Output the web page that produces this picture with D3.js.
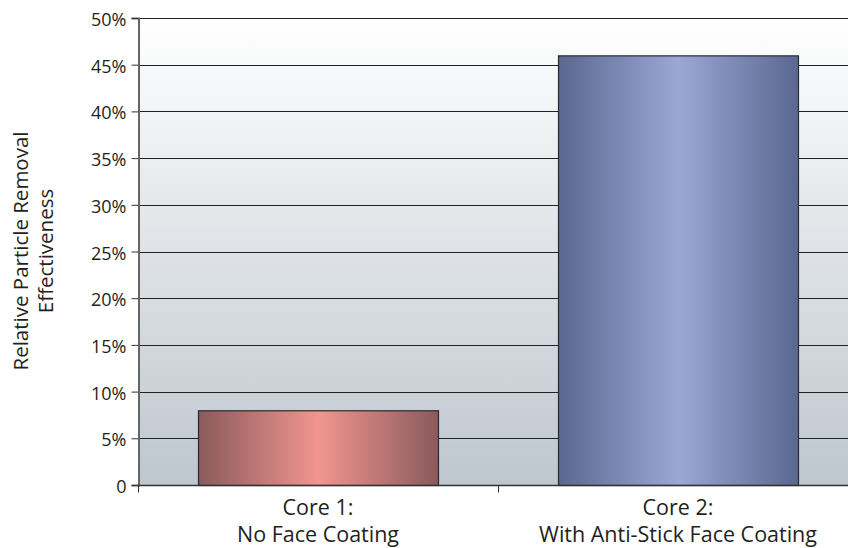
<!DOCTYPE html>
<html>
<head>
<meta charset="utf-8">
<script src="https://cdn.jsdelivr.net/npm/d3@7"></script>
<style>
  html, body { margin: 0; padding: 0; background: #fff; }
  svg { display: block; font-family: "Open Sans", "Noto Sans", sans-serif; }
</style>
</head>
<body>
<svg id="chart" width="848" height="548"></svg>
<script>
// Categories (two lines each) and their relative removal effectiveness
const categories = ["Core 1:\nNo Face Coating", "Core 2:\nWith Anti-Stick Face Coating"];
const values = [0.08, 0.46];
const yTicks = [0, 0.05, 0.10, 0.15, 0.20, 0.25, 0.30, 0.35, 0.40, 0.45, 0.50];
const yTickLabels = ["0", "5%", "10%", "15%", "20%", "25%", "30%", "35%", "40%", "45%", "50%"];
const yTitle = ["Relative Particle Removal", "Effectiveness"];

(function draw() {
  const svg = d3.select("#chart");
  const plotLeft = 138, plotRight = 858, plotTop = 18, plotBottom = 485;

  const x = d3.scaleBand().domain(categories).range([plotLeft, plotRight]).paddingInner(1/3).paddingOuter(1/6);
  const y = d3.scaleLinear().domain([0, 0.5]).range([plotBottom, plotTop]);

  const defs = svg.append("defs");

  // Plot background: light at the top, grey-blue at the bottom
  const bg = defs.append("linearGradient").attr("id", "bgGrad")
    .attr("x1", 0).attr("y1", 0).attr("x2", 0).attr("y2", 1);
  bg.append("stop").attr("offset", "0%").attr("stop-color", "#ffffff");
  bg.append("stop").attr("offset", "100%").attr("stop-color", "#bec6ce");

  // Horizontal shading for each bar: dark edges, bright centre
  const barColors = [
    { edge: "#8a5a5b", mid: "#f19590" },
    { edge: "#5a6890", mid: "#9ba7d5" }
  ];
  barColors.forEach((c, i) => {
    const g = defs.append("linearGradient").attr("id", "barGrad" + i)
      .attr("x1", 0).attr("y1", 0).attr("x2", 1).attr("y2", 0);
    g.append("stop").attr("offset", "0%").attr("stop-color", c.edge);
    g.append("stop").attr("offset", "50%").attr("stop-color", c.mid);
    g.append("stop").attr("offset", "100%").attr("stop-color", c.edge);
  });

  svg.append("rect")
    .attr("x", plotLeft).attr("y", plotTop)
    .attr("width", plotRight - plotLeft).attr("height", plotBottom - plotTop)
    .attr("fill", "url(#bgGrad)");

  // Gridlines
  svg.append("g").selectAll("line")
    .data(yTicks.filter(d => d > 0))
    .join("line")
    .attr("x1", plotLeft).attr("x2", plotRight)
    .attr("y1", d => Math.round(y(d)) + 0.5).attr("y2", d => Math.round(y(d)) + 0.5)
    .attr("stroke", "#222").attr("stroke-width", 1);

  // Bars
  svg.append("g").selectAll("rect")
    .data(categories)
    .join("rect")
    .attr("x", d => x(d) + 0.5)
    .attr("y", (d, i) => y(values[i]) + 0.5)
    .attr("width", x.bandwidth())
    .attr("height", (d, i) => y(0) - y(values[i]))
    .attr("fill", (d, i) => `url(#barGrad${i})`)
    .attr("stroke", "#2a2a2e").attr("stroke-width", 1.2);

  // Y axis
  const yAxis = d3.axisLeft(y)
    .tickValues(yTicks)
    .tickFormat((d, i) => yTickLabels[i])
    .tickSize(7).tickPadding(5);
  const yg = svg.append("g").attr("transform", `translate(${plotLeft + 0.5},0)`).call(yAxis);
  yg.attr("font-family", null).attr("font-size", null);
  yg.select(".domain").attr("stroke", "#666").attr("stroke-width", 2);
  yg.selectAll(".tick line").attr("stroke", "#333");
  yg.selectAll("text").attr("font-size", 18).attr("fill", "#231f20").attr("dy", "0.42em");

  // X axis with ticks at band boundaries
  const xg = svg.append("g").attr("transform", `translate(0,${plotBottom + 0.5})`);
  xg.append("line").attr("x1", plotLeft).attr("x2", plotRight).attr("stroke", "#333").attr("stroke-width", 1.5);
  const boundaries = [plotLeft, (x(categories[0]) + x.bandwidth() + x(categories[1])) / 2];
  xg.selectAll(".xt").data(boundaries).join("line")
    .attr("class", "xt")
    .attr("x1", d => Math.round(d) + 0.5).attr("x2", d => Math.round(d) + 0.5)
    .attr("y1", 0).attr("y2", 7)
    .attr("stroke", "#333");

  // Category labels
  const labels = svg.append("g").selectAll("text")
    .data(categories)
    .join("text")
    .attr("text-anchor", "middle")
    .attr("font-size", 21.5)
    .attr("fill", "#231f20");
  labels.each(function(d) {
    const t = d3.select(this);
    d.split("\n").forEach((line, j) => {
      t.append("tspan")
        .attr("x", x(d) + x.bandwidth() / 2)
        .attr("y", 515 + j * 27)
        .text(line);
    });
  });

  // Y axis title
  const title = svg.append("text")
    .attr("transform", "translate(0,251) rotate(-90)")
    .attr("text-anchor", "middle")
    .attr("font-size", 20.5)
    .attr("fill", "#231f20");
  yTitle.forEach((line, j) => {
    title.append("tspan").attr("x", 0).attr("y", 28 + j * 25).text(line);
  });
})();
</script>
</body>
</html>
